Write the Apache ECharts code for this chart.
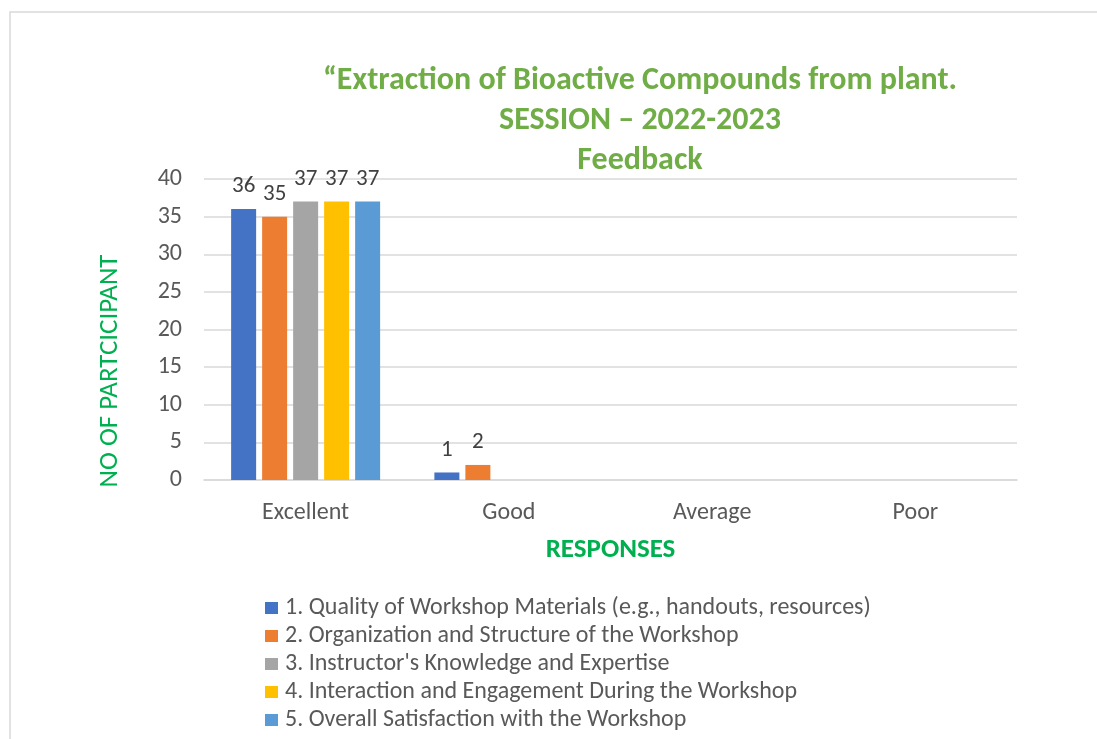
<!DOCTYPE html>
<html>
<head>
<meta charset="utf-8">
<script src="https://cdn.jsdelivr.net/npm/echarts@6/dist/echarts.min.js"></script>
<style>
html,body{margin:0;padding:0;background:#fff;}
#c{width:1097px;height:739px;}
</style>
</head>
<body>
<div id="c"></div>
<script>
const categories = ['Excellent', 'Good', 'Average', 'Poor'];
const seriesNames = [
  '1. Quality of Workshop Materials (e.g., handouts, resources)',
  '2. Organization and Structure of the Workshop',
  "3. Instructor's Knowledge and Expertise",
  '4. Interaction and Engagement During the Workshop',
  '5. Overall Satisfaction with the Workshop'
];
const s1 = [36, 1, null, null];
const s2 = [35, 2, null, null];
const s3 = [37, null, null, null];
const s4 = [37, null, null, null];
const s5 = [37, null, null, null];
const yTicks = { min: 0, max: 40, interval: 5 };
const titleLines = ['“Extraction of Bioactive Compounds from plant.', 'SESSION – 2022-2023', 'Feedback'];
const yAxisTitle = 'NO OF PARTCICIPANT';
const xAxisTitle = 'RESPONSES';
const colors = ['#4472C4', '#ED7D31', '#A5A5A5', '#FFC000', '#5B9BD5'];
const FONT = "Carlito, 'Liberation Sans Narrow', 'Open Sans', sans-serif";

const chart = echarts.init(document.getElementById('c'), null, { renderer: 'canvas' });
const allData = [s1, s2, s3, s4, s5];
chart.setOption({
  backgroundColor: '#fff',
  color: colors,
  textStyle: { fontFamily: FONT },
  title: {
    text: titleLines.join('\n'),
    left: 640, top: 61, padding: 0,
    textAlign: 'center',
    textStyle: { color: '#70AD47', fontWeight: 'bold', fontSize: 32, lineHeight: 40, fontFamily: FONT }
  },
  graphic: [{
    type: 'polyline',
    shape: { points: [[10, 739], [10, 12], [1097, 12]] },
    style: { stroke: '#D9D9D9', lineWidth: 1.5, fill: null },
    silent: true
  }, {
    type: 'text',
    x: 110, y: 371, rotation: Math.PI / 2,
    style: { text: yAxisTitle, fill: '#00B050', font: "27px " + FONT, textAlign: 'center', textVerticalAlign: 'middle' },
    silent: true
  }],
  legend: {
    orient: 'vertical', left: 265, top: 594, padding: 0,
    itemWidth: 13, itemHeight: 12, itemGap: 0,
    icon: 'rect',
    textStyle: { fontSize: 24, lineHeight: 28, color: '#595959', fontFamily: FONT, padding: [0, 0, 0, 2] },
    data: seriesNames
  },
  grid: { left: 204, right: 80, top: 179, bottom: 259, containLabel: false },
  xAxis: {
    type: 'category', data: categories,
    name: xAxisTitle, nameLocation: 'middle', nameGap: 57,
    nameTextStyle: { color: '#00B050', fontWeight: 'bold', fontSize: 27, fontFamily: FONT },
    axisLine: { show: true, lineStyle: { color: '#D9D9D9', width: 1.5 } },
    axisTick: { show: false },
    axisLabel: { color: '#595959', fontSize: 24, margin: 21, fontFamily: FONT }
  },
  yAxis: {
    type: 'value', min: yTicks.min, max: yTicks.max, interval: yTicks.interval,
    axisLine: { show: false }, axisTick: { show: false },
    axisLabel: { color: '#595959', fontSize: 24, margin: 22, fontFamily: FONT },
    splitLine: { lineStyle: { color: '#D9D9D9', width: 1.5 } }
  },
  series: allData.map((d, i) => ({
    name: seriesNames[i], type: 'bar', data: d,
    barWidth: 25, barGap: '24%',
    label: { show: true, position: 'top', color: '#404040', fontSize: 23, fontFamily: FONT, distance: 11 }
  }))
});
</script>
</body>
</html>
